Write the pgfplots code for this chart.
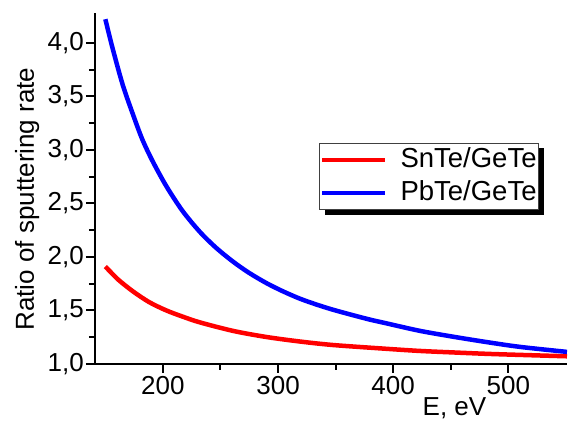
\documentclass[border=0pt]{standalone}
\usepackage{pgfplots}
\pgfplotsset{compat=1.18}
\usetikzlibrary{backgrounds}
\usepackage{fontspec}
\setmainfont{Liberation Sans}
\begin{document}
\begin{tikzpicture}
\begin{axis}[
  width=472pt, height=351pt, scale only axis,
  xmin=141, xmax=551, ymin=1, ymax=4.278,
  axis lines*=left,
  axis line style={line width=2pt},
  every tick/.style={black, line width=2pt},
  tick align=outside,
  major tick length=9pt, minor tick length=6pt,
  xtick={200,300,400,500}, minor x tick num=1,
  ytick={1,1.5,2,2.5,3,3.5,4}, minor y tick num=1,
  /pgf/number format/assume math mode=true,
  /pgf/number format/use comma,
  yticklabel style={/pgf/number format/fixed, /pgf/number format/fixed zerofill, /pgf/number format/precision=1, inner sep=2pt},
  xticklabel style={/pgf/number format/1000 sep={}, inner sep=3pt},
  ticklabel style={font=\fontsize{26}{30}\selectfont},
  xlabel={E, eV}, ylabel={Ratio of sputtering rate},
  label style={font=\fontsize{26}{30}\selectfont},
  xlabel style={at={(axis description cs:0.7616,0)}, anchor=north, inner sep=0pt, yshift=-33pt},
  ylabel style={at={(axis description cs:-0.144,0.470)}, anchor=center, rotate=0, inner sep=0pt},
  legend style={name=leg, at={(axis description cs:0.4746,0.6296)}, anchor=north west,
    font=\fontsize{27.5}{30}\selectfont, draw=black!75, line width=1pt, fill=white,
    inner xsep=0.5pt, inner ysep=0pt, row sep=0pt, column sep=12pt,
    nodes={inner xsep=1pt, inner ysep=3.5pt, text height=20pt, text depth=6pt}},
  legend cell align=left,
  legend image code/.code={\draw[#1, line width=4.5pt] (0pt,0pt) -- (63pt,0pt);},
]
\addplot[red, line width=4.5pt, smooth] coordinates {
(150,1.91) (156,1.843) (162,1.78) (174,1.678) (188,1.578) (203,1.50) (217,1.443)
(232,1.389) (261,1.309) (290,1.252) (319,1.21) (348,1.177) (394,1.142) (423,1.122)
(452,1.108) (481,1.095) (510,1.085) (551,1.072)};
\addlegendentry{SnTe/GeTe}
\addplot[blue, line width=4.5pt, smooth] coordinates {
(150,4.22) (156,3.96) (165,3.61) (174,3.33) (182,3.10) (191,2.895) (203,2.66)
(217,2.43) (232,2.235) (246,2.087) (261,1.955) (275,1.85) (290,1.755) (304,1.68)
(319,1.61) (334,1.553) (348,1.506) (365,1.456) (380,1.414) (394,1.38) (423,1.31)
(452,1.255) (481,1.205) (510,1.16) (551,1.113)};
\addlegendentry{PbTe/GeTe}
\end{axis}
\begin{scope}[on background layer]
\fill[black] ([xshift=5.5pt,yshift=-5pt]leg.south west) rectangle ([xshift=5.5pt,yshift=-5pt]leg.north east);
\end{scope}
\pgfresetboundingbox
\path ([xshift=-95pt,yshift=-60pt]current axis.south west) rectangle ([xshift=3pt,yshift=13pt]current axis.north east);
\end{tikzpicture}
\end{document}
